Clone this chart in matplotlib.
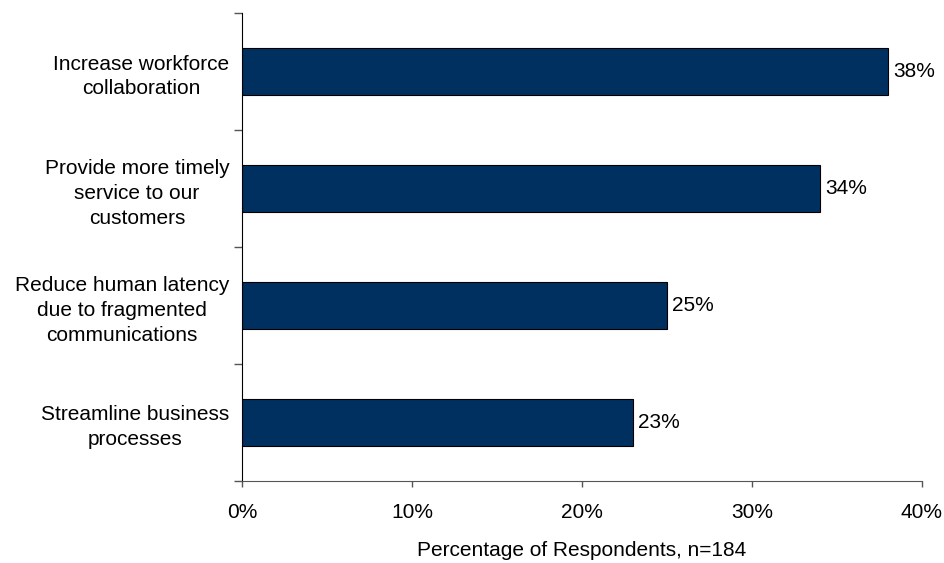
import matplotlib.pyplot as plt
from matplotlib.ticker import FuncFormatter

categories = [
    "Increase workforce\ncollaboration",
    "Provide more timely\nservice to our\ncustomers",
    "Reduce human latency\ndue to fragmented\ncommunications",
    "Streamline business\nprocesses",
]
values = [38, 34, 25, 23]
x_ticks = [0, 10, 20, 30, 40]


def ploting():
    plt.rcParams["font.family"] = ["Liberation Sans", "DejaVu Sans"]
    fig = plt.figure(figsize=(9.45, 5.63), dpi=100)
    ax = fig.add_axes([242 / 945, 1 - 481 / 563, 680 / 945, 468 / 563])

    pos = list(range(len(values)))
    ax.barh(pos, values, height=0.41, color="#00305f", edgecolor="black", linewidth=0.8)
    for p, v in zip(pos, values):
        ax.text(v + 0.3, p, f"{v}%", va="center", ha="left", fontsize=15)

    ax.set_ylim(len(values) - 0.5, -0.5)
    ax.set_xlim(0, 40)
    ax.set_yticks([p - 0.5 for p in pos] + [len(values) - 0.5])
    ax.set_yticklabels([])
    ax.set_yticks(pos, minor=True)
    ax.set_yticklabels(categories, minor=True, fontsize=15, multialignment="center",
                       linespacing=1.38)
    ax.tick_params(axis="y", which="minor", length=0, pad=9)
    ax.tick_params(axis="y", which="major", length=6, width=1, color="#555555")

    ax.set_xticks(x_ticks)
    ax.xaxis.set_major_formatter(FuncFormatter(lambda v, _: f"{int(v)}%"))
    ax.tick_params(axis="x", length=4, width=1, color="#555555", labelsize=15, pad=12)
    ax.set_xlabel("Percentage of Respondents, n=184", fontsize=15, labelpad=13.5)

    ax.spines["top"].set_visible(False)
    ax.spines["right"].set_visible(False)
    ax.spines["left"].set_color("black")
    ax.spines["bottom"].set_color("#555555")

    fig.savefig("out.png", dpi=100)


if __name__ == '__main__':
    ploting()
